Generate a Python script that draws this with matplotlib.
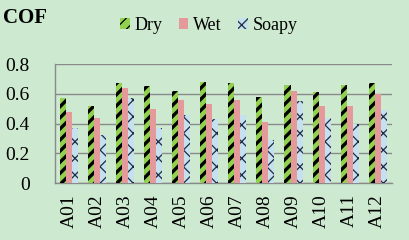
import numpy as np
import matplotlib
matplotlib.use("Agg")
import matplotlib.pyplot as plt

# COF per sample and surface condition
samples = ["A01", "A02", "A03", "A04", "A05", "A06",
           "A07", "A08", "A09", "A10", "A11", "A12"]
dry   = [0.57, 0.52, 0.67, 0.65, 0.62, 0.68, 0.67, 0.58, 0.66, 0.61, 0.66, 0.67]
wet   = [0.48, 0.44, 0.64, 0.50, 0.56, 0.53, 0.56, 0.41, 0.62, 0.52, 0.52, 0.60]
soapy = [0.37, 0.32, 0.57, 0.37, 0.46, 0.43, 0.46, 0.29, 0.55, 0.44, 0.40, 0.49]
yticks = [0, 0.2, 0.4, 0.6, 0.8]

BG = "#cde9d0"
plt.rcParams["font.family"] = ["Liberation Serif", "DejaVu Serif"]
plt.rcParams["hatch.linewidth"] = 2.4

fig = plt.figure(figsize=(4.09, 2.40), dpi=100, facecolor=BG)
ax = fig.add_axes([0.134, 0.2375, 0.824, 0.4955], facecolor=BG)

x = np.arange(len(samples))
w = 0.215
ax.bar(x - w, dry, w, color="#92d050", edgecolor="black", linewidth=0,
       hatch="///", label="Dry", zorder=3)
ax.bar(x, wet, w, color="#e6999b", linewidth=0, label="Wet", zorder=3)
plt.rcParams["hatch.linewidth"] = 0.9
ax.bar(x + w, soapy, w, color="#c5e0ee", edgecolor="#1f2a44", linewidth=0,
       hatch="xx", label="Soapy", zorder=3)

ax.set_xlim(-0.5, len(samples) - 0.5)
ax.set_ylim(0, 0.8)
ax.set_yticks(yticks)
ax.set_yticklabels(["0", "0.2", "0.4", "0.6", "0.8"])
ax.yaxis.grid(True, color="#8a8a8a", linewidth=1.0, zorder=1)
ax.set_xticks(x)
ax.set_xticklabels(samples, rotation=90)
ax.tick_params(axis="both", length=0, labelsize=14, colors="black")
ax.tick_params(axis="y", pad=18)
ax.tick_params(axis="x", pad=8)
for s in ["top", "right"]:
    ax.spines[s].set_visible(False)
for s in ["left", "bottom"]:
    ax.spines[s].set_color("#8a8a8a")
    ax.spines[s].set_linewidth(1.0)

fig.text(0.008, 0.925, "COF", fontsize=15, fontweight="bold", va="center")
fig.legend(loc="center", bbox_to_anchor=(0.51, 0.895), ncol=3, frameon=False,
           fontsize=13, handlelength=0.55, handleheight=0.55,
           handletextpad=0.25, columnspacing=0.9)

fig.savefig("out.png", dpi=100, facecolor=BG)
